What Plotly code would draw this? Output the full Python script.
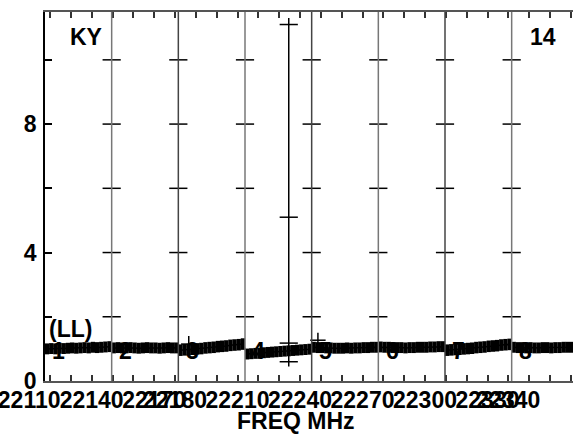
import plotly.graph_objects as go

# ---------------- data ----------------
if_start = [22117.6, 22149.6, 22181.6, 22213.6, 22245.6, 22277.6, 22309.6, 22341.6]
chan_width = 2.0
if_names = ["1", "2", "3", "4", "5", "6", "7", "8"]

if1 = [1.00, 1.01, 1.00, 1.02, 1.01, 1.02, 1.03, 1.02, 1.03, 1.04, 1.03, 1.05, 1.04, 1.05, 1.06, 1.07]
if2 = [1.03, 1.04, 1.03, 1.03, 1.04, 1.03, 1.02, 1.03, 1.04, 1.03, 1.03, 1.02, 1.03, 1.04, 1.03, 1.03]
if3 = [0.96, 0.97, 0.98, 0.99, 1.00, 1.01, 1.03, 1.04, 1.05, 1.07, 1.08, 1.09, 1.11, 1.12, 1.13, 1.15]
if4 = [0.84, 0.85, 0.86, 0.86, 0.88, 0.89, 0.90, 0.91, 0.92, 0.93, 0.94, 0.95, 0.96, 0.97, 0.98, 0.99]
if5 = [1.05, 1.04, 1.04, 1.03, 1.03, 1.02, 1.02, 1.02, 1.03, 1.02, 1.03, 1.03, 1.04, 1.04, 1.05, 1.05]
if6 = [1.06, 1.05, 1.05, 1.04, 1.04, 1.04, 1.03, 1.04, 1.04, 1.05, 1.05, 1.05, 1.06, 1.06, 1.07, 1.07]
if7 = [0.96, 0.97, 0.98, 0.99, 1.00, 1.01, 1.02, 1.04, 1.05, 1.06, 1.08, 1.09, 1.10, 1.12, 1.13, 1.14]
if8 = [1.05, 1.04, 1.04, 1.03, 1.04, 1.03, 1.03, 1.04, 1.04, 1.03, 1.04, 1.04, 1.05, 1.05, 1.05, 1.06]
if_vals = [if1, if2, if3, if4, if5, if6, if7, if8]
if_err = [0.17, 0.17, 0.18, 0.17, 0.17, 0.17, 0.18, 0.17]

# spike in IF 4
spike_freq = 22234.6
spike_line = [0.45, 11.3]
spike_marks = [0.6, 1.18, 5.1, 11.1]

# isolated points with larger error
out_freq = [22186.6, 22248.6]
out_val = [1.15, 1.27]
out_err = [0.25, 0.23]

y_ticks = [0, 2, 4, 6, 8, 10]
y_ticktext = ["0", "", "4", "", "8", ""]
x_minor_ticks = [22120 + 10 * i for i in range(26)]
x_label_freqs = [22110, 22140, 22170, 22180, 22210, 22240, 22270, 22300, 22330, 22340]

# ---------------- figure ----------------
FONT = dict(family="Liberation Sans, Arial, sans-serif", size=23, color="black", weight="bold")

fx, fy, fe = [], [], []
for st, vals, e in zip(if_start, if_vals, if_err):
    for i, v in enumerate(vals):
        fx.append(st + chan_width / 2 + chan_width * i)
        fy.append(v)
        fe.append(e)

fig = go.Figure()
fig.add_trace(go.Scatter(
    x=fx, y=fy, mode="lines",
    line=dict(color="black", width=1.5),
    error_y=dict(type="data", array=fe, color="black", thickness=4.3, width=0),
    showlegend=False, hoverinfo="skip"))

fig.add_trace(go.Scatter(
    x=[spike_freq, spike_freq], y=spike_line, mode="lines",
    line=dict(color="black", width=1.5), showlegend=False))
fig.add_trace(go.Scatter(
    x=[spike_freq] * len(spike_marks), y=spike_marks, mode="markers",
    marker=dict(symbol="line-ew", size=13, line=dict(color="black", width=1.5)),
    showlegend=False))
fig.add_trace(go.Scatter(
    x=out_freq, y=out_val, mode="markers",
    marker=dict(symbol="line-ew", size=11, line=dict(color="black", width=1.5)),
    error_y=dict(type="data", array=out_err, color="black", thickness=1.5, width=0),
    showlegend=False))

# divider tick marks
div_x, div_y = [], []
for st in if_start[1:]:
    for yv in y_ticks[1:]:
        div_x.append(st)
        div_y.append(yv)
fig.add_trace(go.Scatter(
    x=div_x, y=div_y, mode="markers",
    marker=dict(symbol="line-ew", size=13, line=dict(color="black", width=1.5)),
    showlegend=False, hoverinfo="skip"))

# dummy trace for label axis
fig.add_trace(go.Scatter(x=[22200], y=[-5], xaxis="x2", yaxis="y", mode="markers",
                         marker=dict(size=1, opacity=0), showlegend=False, hoverinfo="skip"))

for k, st in enumerate(if_start[1:]):
    fig.add_shape(type="line", x0=st, x1=st, y0=0, y1=1, xref="x", yref="paper",
                  line=dict(color="#444" if k % 2 else "#777", width=1.5), layer="above")

for k, st in enumerate(if_start):
    fig.add_annotation(x=st + 6.7, y=0.92, xref="x", yref="y", text=if_names[k],
                       showarrow=False, font=FONT, xanchor="center", yanchor="middle")

fig.add_annotation(x=22137.5, y=10.71, xref="x", yref="y", text="KY", showarrow=False,
                   font=FONT, xanchor="center", yanchor="middle")
fig.add_annotation(x=22356.6, y=10.71, xref="x", yref="y", text="14", showarrow=False,
                   font=FONT, xanchor="center", yanchor="middle")
fig.add_annotation(x=22118.4, y=1.62, xref="x", yref="y", text="(LL)", showarrow=False,
                   font=FONT, xanchor="left", yanchor="middle")
fig.add_annotation(x=296 / 573, y=-0.108, xref="paper", yref="paper", text="FREQ MHz",
                   showarrow=False, font=FONT, xanchor="center", yanchor="middle")

W, H = 573, 434
fig.update_layout(
    width=W, height=H,
    margin=dict(l=0, r=0, t=12, b=53, autoexpand=False),
    paper_bgcolor="white", plot_bgcolor="rgba(0,0,0,0)",
    xaxis=dict(domain=[45 / W, 1], range=[22117.6, 22371.04], autorange=False,
               showgrid=False, zeroline=False, automargin=False,
               showline=True, linecolor="#555", linewidth=1.5, mirror="ticks",
               ticks="inside", ticklen=6, tickwidth=1.5, tickcolor="#333",
               tickmode="array", tickvals=x_minor_ticks, showticklabels=False),
    xaxis2=dict(domain=[0, 1], range=[22096.0, 22371.04], autorange=False, anchor="y",
                showgrid=False, automargin=False, ticklabeloverflow="allow",
                zeroline=False, showline=False, ticks="", tickmode="array",
                tickvals=x_label_freqs, ticktext=[str(v) for v in x_label_freqs],
                tickfont=FONT, tickangle=0, ticklabelstandoff=3),
    yaxis=dict(range=[0, 11.49], autorange=False, anchor="x", showgrid=False, zeroline=False,
               showline=True, automargin=False, ticklabelstandoff=2,
               linecolor="black", linewidth=1.5, ticks="inside", ticklen=7, tickwidth=1.5,
               tickcolor="black", tickmode="array", tickvals=y_ticks, ticktext=y_ticktext,
               tickfont=FONT),
)

fig.write_html("out.html", config={"displayModeBar": False},
               post_script="document.body.style.margin='0';")
